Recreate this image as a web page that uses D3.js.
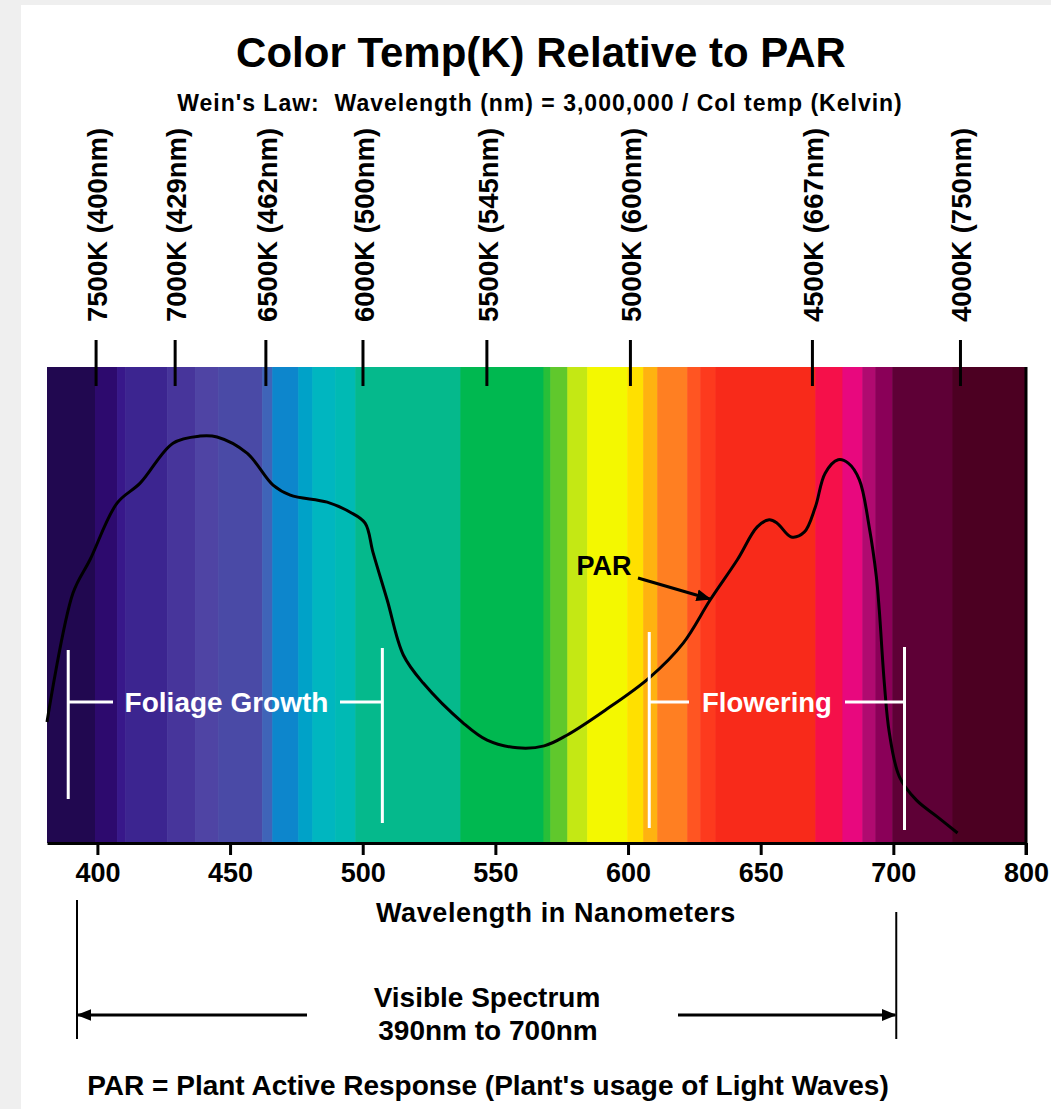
<!DOCTYPE html>
<html>
<head>
<meta charset="utf-8">
<script src="https://cdn.jsdelivr.net/npm/d3@7"></script>
<style>
  html, body { margin: 0; padding: 0; background: #ffffff; }
  svg text { font-family: "Liberation Sans", Arial, Helvetica, sans-serif; font-weight: bold; }
</style>
</head>
<body>
<svg id="chart" width="1051" height="1109"></svg>
<script>
// ---------- data ----------
// spectrum stripes: start wavelength (nm) and colour
const stripeStart = [381, 399.1, 407.4, 410.5, 426.3, 436.8, 445.5, 462.1, 465.9, 475.7, 481.0, 489.6, 497.2, 536.8, 568.1, 570.7, 577.1, 584.6, 599.7, 605.7, 611.0, 622.3, 627.2, 632.9, 670.6, 680.8, 688.3, 693.2, 699.6, 722.3];
const stripeColor = ["#210850", "#2d0a6e", "#38188a", "#3c2590", "#47359b", "#4f44a4", "#4a4aa6", "#3f64b8", "#0d86cc", "#00a2c8", "#00b6c0", "#00bab4", "#05b98c", "#00b850", "#28bf38", "#60c82c", "#c4e814", "#f4f800", "#ffe000", "#ffb210", "#ff7f22", "#ff5522", "#fd3a1e", "#f82a1a", "#f5104a", "#e8087e", "#b00a70", "#8a0058", "#5e0036", "#4c0022"];
const spectrumEnd = 750;

// PAR curve (wavelength nm, relative response 0-100)
const parNm = [381.0, 390.8, 397.2, 407.4, 416.1, 428.5, 438.7, 445.1, 456.4, 466.2, 472.7, 486.6, 495.3, 500.9, 503.9, 509.2, 515.3, 522.8, 537.9, 546.9, 558.3, 568.4, 577.1, 591.4, 608.0, 620.8, 631.0, 641.2, 648.7, 653.2, 656.2, 661.5, 666.4, 670.6, 674.3, 679.2, 683.0, 687.2, 690.9, 693.6, 694.7, 696.6, 698.5, 702.3, 708.7, 716.6, 724.2];
const parVal = [25.4, 52.5, 59.5, 71.4, 75.6, 84.0, 85.5, 85.3, 81.9, 75.2, 73.1, 71.6, 69.5, 67.2, 61.0, 51.1, 39.5, 33.6, 25.2, 21.6, 20.0, 20.4, 22.7, 27.9, 34.7, 42.0, 51.1, 59.5, 66.4, 67.9, 67.2, 64.3, 65.3, 70.6, 77.7, 80.5, 79.8, 76.3, 66.4, 55.9, 48.9, 33.6, 23.1, 13.9, 9.0, 5.5, 2.1];

// bottom axis ticks
const tickValues = [400, 450, 500, 550, 600, 650, 700, 750];
const tickLabels = ["400", "450", "500", "550", "600", "650", "700", "800"];

// colour temperature markers along the top
const kelvinLabels = ["7500K (400nm)", "7000K (429nm)", "6500K (462nm)", "6000K (500nm)", "5500K (545nm)", "5000K (600nm)", "4500K (667nm)", "4000K (750nm)"];
const kelvinPos = [399.5, 429.3, 463.5, 500.1, 546.8, 600.9, 669.5, 725.3];

// bracket ranges (nm)
const foliageRange = [389.0, 507.4];
const floweringRange = [608.0, 704.2];
const visibleRange = [392.3, 701.1];

// ---------- layout ----------
const svg = d3.select("#chart");
const bandLeft = 47, bandRight = 1026, bandTop = 367, bandBottom = 843;

const x = d3.scaleLinear().domain([381, spectrumEnd]).range([bandLeft, bandRight]);
const y = d3.scaleLinear().domain([0, 100]).range([bandBottom, bandTop]);

// light grey frame at left/top of the picture
svg.append("rect").attr("x", 0).attr("y", 0).attr("width", 1051).attr("height", 1109).attr("fill", "#ffffff");
svg.append("rect").attr("x", 0).attr("y", 0).attr("width", 21).attr("height", 1109).attr("fill", "#efefef");
svg.append("rect").attr("x", 0).attr("y", 0).attr("width", 1051).attr("height", 5).attr("fill", "#efefef");

// titles
svg.append("text").attr("x", 541).attr("y", 67).attr("text-anchor", "middle")
  .attr("font-size", 42).attr("fill", "#000").text("Color Temp(K) Relative to PAR");
svg.append("text").attr("x", 540).attr("y", 111).attr("text-anchor", "middle")
  .attr("font-size", 23).attr("letter-spacing", 1).attr("fill", "#000")
  .attr("xml:space", "preserve")
  .text("Wein's Law:  Wavelength (nm) = 3,000,000 / Col temp (Kelvin)");

// spectrum stripes
const stripes = stripeStart.map((s, i) => ({ s, e: i < stripeStart.length - 1 ? stripeStart[i + 1] : spectrumEnd, c: stripeColor[i] }));
svg.append("g").selectAll("rect").data(stripes).join("rect")
  .attr("x", d => x(d.s))
  .attr("width", d => x(d.e) - x(d.s) + 0.6)
  .attr("y", bandTop)
  .attr("height", bandBottom - bandTop)
  .attr("fill", d => d.c);

// right border
svg.append("line").attr("x1", bandRight).attr("x2", bandRight).attr("y1", bandTop).attr("y2", bandBottom + 12)
  .attr("stroke", "#000").attr("stroke-width", 3);

// kelvin markers
const kg = svg.append("g");
kg.selectAll("line").data(kelvinPos).join("line")
  .attr("x1", d => x(d)).attr("x2", d => x(d))
  .attr("y1", 340).attr("y2", 386)
  .attr("stroke", "#000").attr("stroke-width", 3);
kg.selectAll("text").data(kelvinLabels).join("text")
  .attr("transform", (d, i) => `translate(${x(kelvinPos[i]) + 1},322) rotate(-90)`)
  .attr("text-anchor", "start")
  .attr("dy", "0.36em")
  .attr("font-size", 27.5)
  .attr("fill", "#000")
  .text(d => d);

// PAR curve
const line = d3.line()
  .x((d, i) => x(parNm[i]))
  .y((d, i) => y(parVal[i]))
  .curve(d3.curveCatmullRom.alpha(0.5));
svg.append("path").datum(parNm).attr("d", line)
  .attr("fill", "none").attr("stroke", "#000").attr("stroke-width", 3).attr("stroke-linejoin", "round");

// brackets
function bracket(range, label, yl, yr, mid, gapL, gapR, fs) {
  const g = svg.append("g").attr("stroke", "#ffffff").attr("stroke-width", 3);
  const xl = x(range[0]), xr = x(range[1]);
  g.append("line").attr("x1", xl).attr("x2", xl).attr("y1", yl[0]).attr("y2", yl[1]);
  g.append("line").attr("x1", xr).attr("x2", xr).attr("y1", yr[0]).attr("y2", yr[1]);
  g.append("line").attr("x1", xl).attr("x2", gapL).attr("y1", mid).attr("y2", mid);
  g.append("line").attr("x1", gapR).attr("x2", xr).attr("y1", mid).attr("y2", mid);
  svg.append("text").attr("x", (gapL + gapR) / 2).attr("y", mid + 10).attr("text-anchor", "middle")
    .attr("font-size", fs).attr("fill", "#ffffff").text(label);
}
bracket(foliageRange, "Foliage Growth", [650, 799], [648, 823], 702, 113, 340, 28);
bracket(floweringRange, "Flowering", [632, 828], [647, 830], 702, 689, 845, 27.5);

// PAR label and arrow
const defs = svg.append("defs");
defs.append("marker").attr("id", "ah").attr("viewBox", "0 0 10 10").attr("refX", 9).attr("refY", 5)
  .attr("markerWidth", 5).attr("markerHeight", 5).attr("orient", "auto-start-reverse")
  .attr("markerUnits", "strokeWidth")
  .append("path").attr("d", "M0,1 L10,5 L0,9 Z").attr("fill", "#000");
svg.append("text").attr("x", 604).attr("y", 575).attr("text-anchor", "middle")
  .attr("font-size", 27).attr("fill", "#000").text("PAR");
svg.append("line").attr("x1", 638).attr("y1", 578).attr("x2", 710).attr("y2", 599)
  .attr("stroke", "#000").attr("stroke-width", 3).attr("marker-end", "url(#ah)");

// bottom axis
const axis = d3.axisBottom(x).tickValues(tickValues)
  .tickFormat((d, i) => tickLabels[i]).tickSize(12).tickSizeOuter(0).tickPadding(8);
const ag = svg.append("g").attr("transform", `translate(0,${bandBottom})`).call(axis);
ag.select(".domain").attr("stroke", "#000").attr("stroke-width", 3);
ag.selectAll(".tick line").attr("stroke", "#000").attr("stroke-width", 3);
ag.selectAll(".tick text").attr("font-size", 27).attr("fill", "#000")
  .attr("font-family", "'Liberation Sans', Arial, sans-serif").attr("font-weight", "bold");

svg.append("text").attr("x", 556).attr("y", 922).attr("text-anchor", "middle")
  .attr("font-size", 27).attr("letter-spacing", 0.6).attr("fill", "#000").text("Wavelength in Nanometers");

// visible spectrum span
const vl = x(visibleRange[0]), vr = x(visibleRange[1]);
svg.append("line").attr("x1", vl).attr("x2", vl).attr("y1", 900).attr("y2", 1039).attr("stroke", "#000").attr("stroke-width", 2);
svg.append("line").attr("x1", vr).attr("x2", vr).attr("y1", 912).attr("y2", 1039).attr("stroke", "#000").attr("stroke-width", 2);
svg.append("line").attr("x1", 307).attr("x2", vl + 1).attr("y1", 1015).attr("y2", 1015)
  .attr("stroke", "#000").attr("stroke-width", 3).attr("marker-end", "url(#ah)");
svg.append("line").attr("x1", 678).attr("x2", vr - 1).attr("y1", 1015).attr("y2", 1015)
  .attr("stroke", "#000").attr("stroke-width", 3).attr("marker-end", "url(#ah)");
svg.append("text").attr("x", 487).attr("y", 1007).attr("text-anchor", "middle")
  .attr("font-size", 28).attr("fill", "#000").text("Visible Spectrum");
svg.append("text").attr("x", 488).attr("y", 1040).attr("text-anchor", "middle")
  .attr("font-size", 28).attr("fill", "#000").text("390nm to 700nm");

svg.append("text").attr("x", 488).attr("y", 1095).attr("text-anchor", "middle")
  .attr("font-size", 28).attr("fill", "#000").text("PAR = Plant Active Response (Plant's usage of Light Waves)");
</script>
</body>
</html>
